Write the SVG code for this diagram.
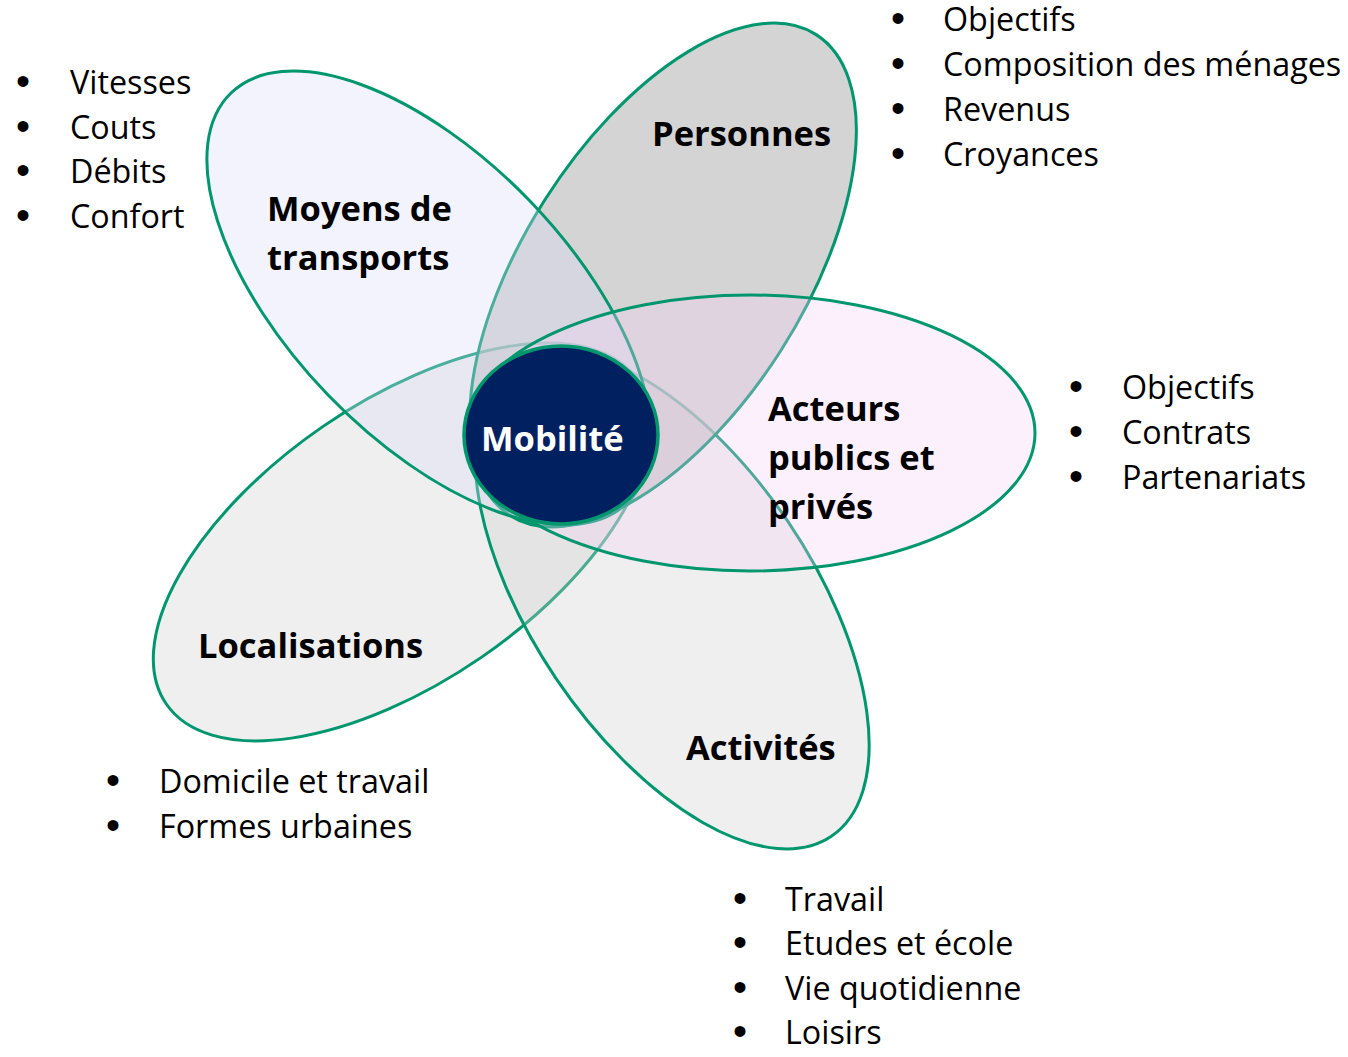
<svg xmlns="http://www.w3.org/2000/svg" width="1348" height="1057" viewBox="0 0 1348 1057">
<style>
.pet{stroke:#00966E;stroke-width:3}
.lbl{font-family:"Open Sans","Noto Sans",sans-serif;font-weight:700;font-size:34.5px;fill:#000}
.item{font-family:"Open Sans","Noto Sans",sans-serif;font-size:32.3px;fill:#000}
.bul{font-family:"Liberation Sans",Arial,sans-serif;font-size:40px;fill:#000}
</style>
<rect width="1348" height="1057" fill="#fff"/>
<g id="localisations">
<ellipse class="pet" cx="0" cy="0" rx="286" ry="140" transform="translate(402,542) rotate(-34.5)" fill="#EFEFEF"/>
<text class="lbl" x="198" y="658">Localisations</text>
</g>
<g id="activites">
<ellipse class="pet" cx="0" cy="0" rx="285" ry="140" transform="translate(672,600) rotate(56)" fill="#D0D0D0" fill-opacity="0.35"/>
<text class="lbl" x="686" y="760">Activités</text>
</g>
<g id="personnes">
<ellipse class="pet" cx="0" cy="0" rx="285" ry="140" transform="translate(663,275) rotate(-57.5)" fill="#C0C0C0" fill-opacity="0.68"/>
<text class="lbl" x="652" y="146">Personnes</text>
</g>
<g id="moyens">
<ellipse class="pet" cx="0" cy="0" rx="285" ry="140" transform="translate(429,298) rotate(46)" fill="rgb(217,220,246)" fill-opacity="0.34"/>
<text class="lbl" x="267" y="221">Moyens de</text>
<text class="lbl" x="267" y="270">transports</text>
</g>
<g id="acteurs">
<ellipse class="pet" cx="750" cy="433" rx="285" ry="138" fill="rgb(249,208,249)" fill-opacity="0.32"/>
<text class="lbl" x="768" y="421">Acteurs</text>
<text class="lbl" x="768" y="470">publics et</text>
<text class="lbl" x="768" y="519">privés</text>
</g>
<g id="mobilite">
<ellipse cx="561" cy="435" rx="97" ry="89" fill="#002060" stroke="#00966E" stroke-width="3.5"/>
<text class="lbl" x="481" y="451" style="fill:#fff">Mobilité</text>
</g>
<g id="connectors"></g>
<g id="list-moyens">
<text class="bul" x="16" y="95">•</text><text class="item" x="70" y="94">Vitesses</text>
<text class="bul" x="16" y="140">•</text><text class="item" x="70" y="139">Couts</text>
<text class="bul" x="16" y="184">•</text><text class="item" x="70" y="183">Débits</text>
<text class="bul" x="16" y="229">•</text><text class="item" x="70" y="228">Confort</text>
</g>
<g id="list-personnes">
<text class="bul" x="891" y="32">•</text><text class="item" x="943" y="31">Objectifs</text>
<text class="bul" x="891" y="77">•</text><text class="item" x="943" y="76">Composition des ménages</text>
<text class="bul" x="891" y="122">•</text><text class="item" x="943" y="121">Revenus</text>
<text class="bul" x="891" y="167">•</text><text class="item" x="943" y="166">Croyances</text>
</g>
<g id="list-acteurs">
<text class="bul" x="1069" y="400">•</text><text class="item" x="1122" y="399">Objectifs</text>
<text class="bul" x="1069" y="445">•</text><text class="item" x="1122" y="444">Contrats</text>
<text class="bul" x="1069" y="490">•</text><text class="item" x="1122" y="489">Partenariats</text>
</g>
<g id="list-localisations">
<text class="bul" x="106" y="794">•</text><text class="item" x="159" y="793">Domicile et travail</text>
<text class="bul" x="106" y="839">•</text><text class="item" x="159" y="838">Formes urbaines</text>
</g>
<g id="list-activites">
<text class="bul" x="733" y="912">•</text><text class="item" x="785" y="911">Travail</text>
<text class="bul" x="733" y="956">•</text><text class="item" x="785" y="955">Etudes et école</text>
<text class="bul" x="733" y="1001">•</text><text class="item" x="785" y="1000">Vie quotidienne</text>
<text class="bul" x="733" y="1045">•</text><text class="item" x="785" y="1044">Loisirs</text>
</g>
</svg>
